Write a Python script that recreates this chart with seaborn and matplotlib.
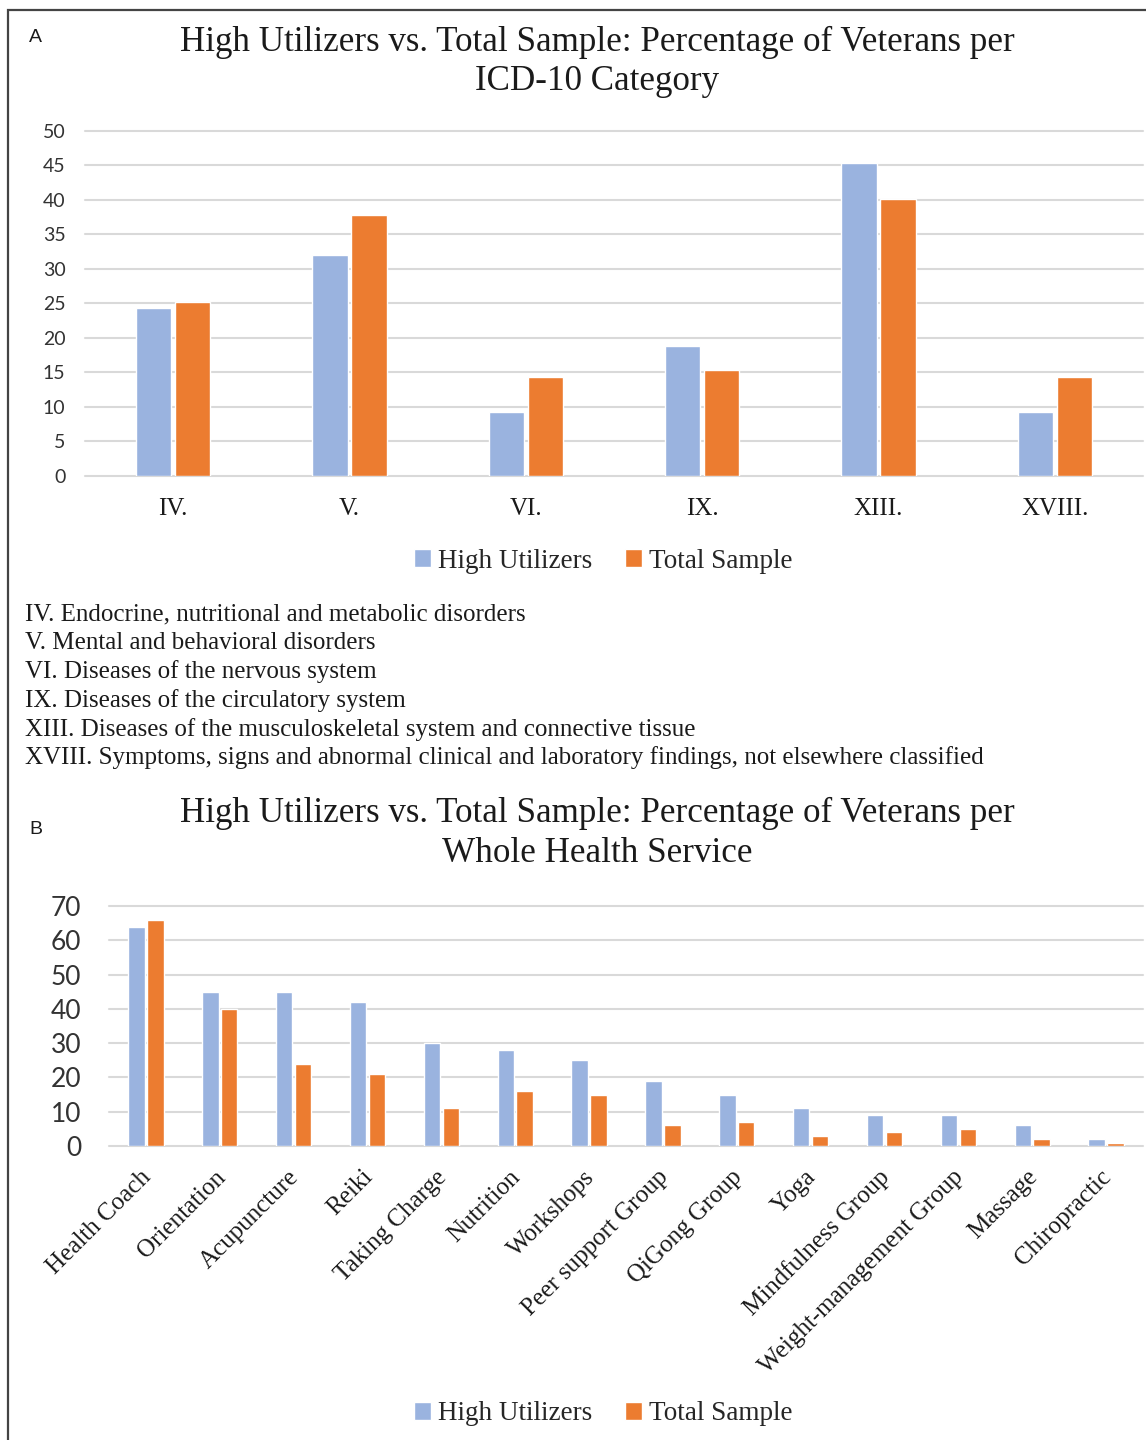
import numpy as np
import pandas as pd
import matplotlib
matplotlib.use("Agg")
import matplotlib.pyplot as plt
import matplotlib.transforms as mtransforms
from matplotlib.patches import Rectangle
import seaborn as sns

# ---------------- data ----------------
icd_categories = ["IV.", "V.", "VI.", "IX.", "XIII.", "XVIII."]
icd_high = [24.4, 32.0, 9.3, 18.8, 45.3, 9.3]
icd_total = [25.2, 37.8, 14.3, 15.4, 40.1, 14.3]
icd_yticks = [0, 5, 10, 15, 20, 25, 30, 35, 40, 45, 50]

services = ["Health Coach", "Orientation", "Acupuncture", "Reiki", "Taking Charge",
            "Nutrition", "Workshops", "Peer support Group", "QiGong Group", "Yoga",
            "Mindfulness Group", "Weight-management Group", "Massage", "Chiropractic"]
svc_high = [64, 45, 45, 42, 30, 28, 25, 19, 15, 11, 9, 9, 6, 2]
svc_total = [66, 40, 24, 21, 11, 16, 15, 6, 7, 3, 4, 5, 2, 1]
svc_yticks = [0, 10, 20, 30, 40, 50, 60, 70]

series = ["High Utilizers", "Total Sample"]
palette = {"High Utilizers": "#9AB3DF", "Total Sample": "#EC7C30"}

icd_legend_lines = [
    "IV. Endocrine, nutritional and metabolic disorders",
    "V. Mental and behavioral disorders",
    "VI. Diseases of the nervous system",
    "IX. Diseases of the circulatory system",
    "XIII. Diseases of the musculoskeletal system and connective tissue",
    "XVIII. Symptoms, signs and abnormal clinical and laboratory findings, not elsewhere classified",
]
title_A = ["High Utilizers vs. Total Sample: Percentage of Veterans per", "ICD-10 Category"]
title_B = ["High Utilizers vs. Total Sample: Percentage of Veterans per", "Whole Health Service"]

dfA = pd.DataFrame({
    "category": icd_categories * 2,
    "value": icd_high + icd_total,
    "series": [series[0]] * len(icd_categories) + [series[1]] * len(icd_categories),
})
dfB = pd.DataFrame({
    "category": services * 2,
    "value": svc_high + svc_total,
    "series": [series[0]] * len(services) + [series[1]] * len(services),
})

# ---------------- style ----------------
sns.set_style("white")
plt.rcParams["font.family"] = ["Liberation Serif", "DejaVu Serif"]
SERIF = "Liberation Serif"
SANS = "Lato"
GRID = "#D9D9D9"
TXT = "#1a1a1a"

W, H = 1146, 1440
fig = plt.figure(figsize=(W / 100, H / 100), dpi=100)
fig.patch.set_facecolor("white")


def px_axes(l, t, r, b):
    return fig.add_axes([l / W, 1 - b / H, (r - l) / W, (b - t) / H])


def fx(x):
    return x / W


def fy(y):
    return 1 - y / H


# outer frame
fig.patches.append(Rectangle((fx(8), fy(1460)), (1170 - 8) / W, (1460 - 10) / H,
                             transform=fig.transFigure, fill=False,
                             edgecolor="#444444", linewidth=1.6, zorder=0))


def style_axes(ax, yticks, ysize, ypad, xsize, xpad):
    for s in ax.spines.values():
        s.set_visible(False)
    ax.set_ylim(yticks[0], yticks[-1])
    ax.set_yticks(yticks)
    ax.yaxis.grid(True, color=GRID, linewidth=1.5)
    ax.xaxis.grid(False)
    ax.set_axisbelow(True)
    for gl in ax.get_ygridlines():
        gl.set_clip_on(False)
    ax.set_xlabel("")
    ax.set_ylabel("")
    ax.tick_params(axis="y", length=0, pad=ypad, labelsize=ysize, labelcolor="#333333")
    ax.tick_params(axis="x", length=0, pad=xpad, labelsize=xsize, labelcolor=TXT)
    for lab in ax.get_yticklabels():
        lab.set_family(SANS)
    for lab in ax.get_xticklabels():
        lab.set_family(SERIF)
    ax.set_facecolor("white")


def add_legend(ax, ycenter):
    handles, labels = ax.get_legend_handles_labels()
    if ax.get_legend() is not None:
        ax.get_legend().remove()
    fig.legend(handles, labels, loc="center", bbox_to_anchor=(fx(603), fy(ycenter)),
               ncol=2, frameon=False, handlelength=0.65, handleheight=0.65,
               handletextpad=0.25, columnspacing=1.2,
               prop={"family": SERIF, "size": 19.5})


# ---------------- panel A ----------------
fig.text(fx(29), fy(37), "A", family="Liberation Sans", fontsize=14, ha="left", va="center", color=TXT)
fig.text(fx(597), fy(42), title_A[0], family=SERIF, fontsize=25.2, ha="center", va="center", color=TXT)
fig.text(fx(597), fy(82), title_A[1], family=SERIF, fontsize=25.2, ha="center", va="center", color=TXT)

axA = px_axes(85, 131, 1143, 476)
sns.barplot(data=dfA, x="category", y="value", hue="series", hue_order=series,
            order=icd_categories, palette=palette, saturation=1,
            width=0.44, gap=0.09, ax=axA, errorbar=None)
style_axes(axA, icd_yticks, 14, 14, 18, 16)
add_legend(axA, 561)

for i, line in enumerate(icd_legend_lines):
    fig.text(fx(25), fy(614 + i * 28.8), line, family=SERIF, fontsize=18,
             ha="left", va="center", color=TXT)

# ---------------- panel B ----------------
fig.text(fx(29), fy(830), "B", family="Liberation Sans", fontsize=14, ha="left", va="center", color=TXT)
fig.text(fx(597), fy(813), title_B[0], family=SERIF, fontsize=25.2, ha="center", va="center", color=TXT)
fig.text(fx(597), fy(853), title_B[1], family=SERIF, fontsize=25.2, ha="center", va="center", color=TXT)

axB = px_axes(109, 906, 1143, 1146)
sns.barplot(data=dfB, x="category", y="value", hue="series", hue_order=series,
            order=services, palette=palette, saturation=1,
            width=0.51, gap=0.13, ax=axB, errorbar=None)
style_axes(axB, svc_yticks, 19, 20, 18, 20)
axB.set_xticks(range(len(services)))
axB.set_xticklabels(services, rotation=45, ha="right", va="center",
                    rotation_mode="anchor", family=SERIF, fontsize=18, color=TXT)
offset = mtransforms.ScaledTranslation(2 / 100, 0, fig.dpi_scale_trans)
for lab in axB.get_xticklabels():
    lab.set_transform(lab.get_transform() + offset)
add_legend(axB, 1414)

fig.savefig("out.png", dpi=100, facecolor="white")
